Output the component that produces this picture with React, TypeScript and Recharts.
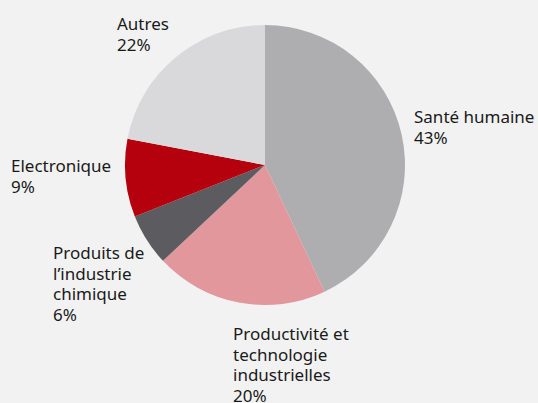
import { PieChart, Pie, Cell } from 'recharts'

const NAMES = [
  'Santé humaine',
  'Productivité et\ntechnologie\nindustrielles',
  'Produits de\nl’industrie\nchimique',
  'Electronique',
  'Autres',
]
const VALUES = [43, 20, 6, 9, 22]
const COLORS = ['#aeaeb1', '#e1979c', '#5c5b60', '#b5000e', '#d9d9db']

// label block offsets from pie centre (left x, first baseline)
const LABEL_DX = [149, -32, -212, -254, -148]
const LABEL_DY = [-42, 175, 94, 7, -135]
const LINE_H = 20.7

const data = NAMES.map((name, i) => ({ name, value: VALUES[i] }))

function renderLabel(props: any) {
  const { cx, cy, index } = props
  const lines = [...NAMES[index].split('\n'), `${VALUES[index]}%`]
  const x = cx + LABEL_DX[index]
  const y = cy + LABEL_DY[index]
  return (
    <text x={x} y={y} fill="#1a1a1a" fontSize={17} fontFamily="'Noto Sans', sans-serif" textAnchor="start">
      {lines.map((l, k) => (
        <tspan key={k} x={x} y={y + k * LINE_H}>
          {l}
        </tspan>
      ))}
    </text>
  )
}

export default function App() {
  return (
    <div style={{ position: 'absolute', left: 0, top: 0, width: 538, height: 403, background: '#f2f2f2', overflow: 'hidden' }}>
      <PieChart width={538} height={403} margin={{ top: 0, right: 0, bottom: 0, left: 0 }}>
        <Pie
          data={data}
          dataKey="value"
          nameKey="name"
          cx={265}
          cy={165}
          outerRadius={140}
          startAngle={90}
          endAngle={-270}
          stroke="none"
          label={renderLabel}
          labelLine={false}
          isAnimationActive={false}
        >
          {data.map((d, i) => (
            <Cell key={d.name} fill={COLORS[i]} />
          ))}
        </Pie>
      </PieChart>
    </div>
  )
}
